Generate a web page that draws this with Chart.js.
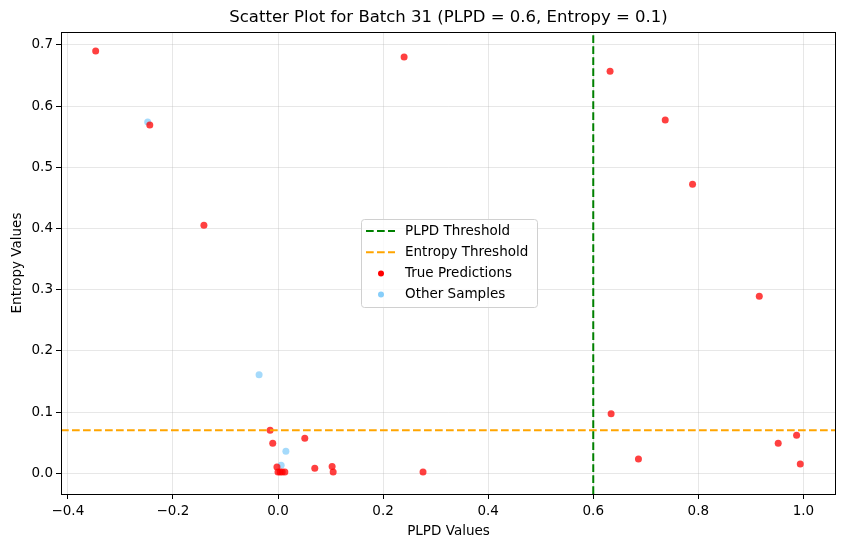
<!DOCTYPE html>
<html>
<head>
<meta charset="utf-8">
<script src="https://cdn.jsdelivr.net/npm/chart.js@4.4.0/dist/chart.umd.min.js"></script>
<style>
  html, body { margin: 0; padding: 0; background: #fff; }
  #wrap { width: 846px; height: 547px; }
</style>
</head>
<body>
<div id="wrap"><canvas id="scatterChart"></canvas></div>
<script>
// data
const trueX = [-0.347, -0.244, -0.141, 0.240, 0.632, 0.737, 0.789, 0.916, 0.634, 0.686, 0.952, 0.987, 0.994,
  -0.015, -0.010, 0.051, 0.070, 0.103, 0.105, 0.276, -0.002, 0.000, 0.004, 0.008, 0.013];
const trueY = [0.690, 0.569, 0.405, 0.680, 0.657, 0.577, 0.472, 0.289, 0.097, 0.023, 0.049, 0.062, 0.015,
  0.070, 0.049, 0.057, 0.008, 0.011, 0.002, 0.002, 0.010, 0.002, 0.002, 0.002, 0.002];
const otherX = [-0.248, -0.036, 0.015, 0.006];
const otherY = [0.574, 0.161, 0.036, 0.013];
const plpdThreshold = 0.6;
const entropyThreshold = 0.07;
const xTicks = [-0.4, -0.2, 0.0, 0.2, 0.4, 0.6, 0.8, 1.0];
const yTicks = [0.0, 0.1, 0.2, 0.3, 0.4, 0.5, 0.6, 0.7];
const xRange = [-0.413, 1.062];
const yRange = [-0.034, 0.721];
const labels = ['PLPD Threshold', 'Entropy Threshold', 'True Predictions', 'Other Samples'];

const FONT = 'DejaVu Sans';
const DASH = [7.7, 3.3];

function toPoints(xs, ys) {
  return xs.map((x, i) => ({ x: x, y: ys[i] }));
}

// title, frame and legend drawn by hand like matplotlib
const extras = {
  id: 'extras',
  afterDraw(chart) {
    const ctx = chart.ctx;
    const a = chart.chartArea;
    ctx.save();
    // frame
    ctx.strokeStyle = '#000';
    ctx.lineWidth = 1;
    ctx.strokeRect(Math.round(a.left) + 0.5, Math.round(a.top) + 0.5,
      Math.round(a.right - a.left) - 1, Math.round(a.bottom - a.top));
    // title
    ctx.fillStyle = '#000';
    ctx.font = '16.5px "' + FONT + '"';
    ctx.textAlign = 'center';
    ctx.textBaseline = 'middle';
    ctx.fillText('Scatter Plot for Batch 31 (PLPD = 0.6, Entropy = 0.1)', (a.left + a.right) / 2, 18);

    // legend box
    const bx = 361, by = 219, bw = 176, bh = 88;
    ctx.fillStyle = 'rgba(255,255,255,0.8)';
    ctx.strokeStyle = '#d0d0d0';
    ctx.beginPath();
    ctx.roundRect(bx + 0.5, by + 0.5, bw, bh, 3);
    ctx.fill();
    ctx.stroke();
    const colors = ['green', 'orange', 'rgba(255,0,0,1)', 'rgba(135,206,250,1)'];
    ctx.font = '13.5px "' + FONT + '"';
    ctx.textAlign = 'left';
    labels.forEach((lab, i) => {
      const yy = by + 12 + i * 21.2;
      if (i < 2) {
        ctx.strokeStyle = colors[i];
        ctx.lineWidth = 2;
        ctx.setLineDash(DASH);
        ctx.beginPath();
        ctx.moveTo(366, yy);
        ctx.lineTo(395, yy);
        ctx.stroke();
        ctx.setLineDash([]);
      } else {
        ctx.fillStyle = colors[i];
        ctx.beginPath();
        ctx.arc(381, yy, 3, 0, Math.PI * 2);
        ctx.fill();
      }
      ctx.fillStyle = '#000';
      ctx.fillText(lab, 405, yy);
    });
    ctx.restore();
  }
};

const gridStyle = {
  color: 'rgba(176,176,176,0.3)',
  tickColor: '#000',
  tickLength: 5,
  drawTicks: true
};

new Chart(document.getElementById('scatterChart'), {
  type: 'scatter',
  data: {
    datasets: [
      {
        label: labels[0],
        data: toPoints([plpdThreshold, plpdThreshold], yRange),
        showLine: true,
        borderColor: 'green',
        borderWidth: 2,
        borderDash: DASH,
        pointRadius: 0,
        order: 1
      },
      {
        label: labels[1],
        data: toPoints(xRange, [entropyThreshold, entropyThreshold]),
        showLine: true,
        borderColor: 'orange',
        borderWidth: 2,
        borderDash: DASH,
        pointRadius: 0,
        order: 2
      },
      {
        label: labels[2],
        data: toPoints(trueX, trueY),
        backgroundColor: 'rgba(255,0,0,0.75)',
        borderWidth: 0,
        pointRadius: 3.5,
        order: 3
      },
      {
        label: labels[3],
        data: toPoints(otherX, otherY),
        backgroundColor: 'rgba(135,206,250,0.75)',
        borderWidth: 0,
        pointRadius: 3.5,
        order: 4
      }
    ]
  },
  options: {
    responsive: true,
    maintainAspectRatio: false,
    animation: false,
    layout: { padding: { top: 32, right: 10, left: 0, bottom: 0 } },
    plugins: {
      legend: { display: false },
      title: { display: false },
      tooltip: { enabled: false }
    },
    scales: {
      x: {
        type: 'linear',
        min: xRange[0],
        max: xRange[1],
        afterFit: s => { s.height = 53; },
        afterBuildTicks: s => { s.ticks = xTicks.map(v => ({ value: v })); },
        ticks: {
          color: '#000',
          font: { family: FONT, size: 13.5 },
          padding: 4,
          maxRotation: 0,
          callback: v => (v < 0 ? '\u2212' + Math.abs(v).toFixed(1) : v.toFixed(1))
        },
        grid: gridStyle,
        border: { display: false },
        title: {
          display: true,
          text: 'PLPD Values',
          color: '#000',
          font: { family: FONT, size: 13.5 },
          padding: { top: 0, bottom: 7 }
        }
      },
      y: {
        type: 'linear',
        min: yRange[0],
        max: yRange[1],
        afterFit: s => { s.width = 61; },
        afterBuildTicks: s => { s.ticks = yTicks.map(v => ({ value: v })); },
        ticks: {
          color: '#000',
          font: { family: FONT, size: 13.5 },
          padding: 3,
          callback: v => v.toFixed(1)
        },
        grid: gridStyle,
        border: { display: false },
        title: {
          display: true,
          text: 'Entropy Values',
          color: '#000',
          font: { family: FONT, size: 13.5 },
          padding: { top: 9, bottom: 9 }
        }
      }
    }
  },
  plugins: [extras]
});
</script>
</body>
</html>
